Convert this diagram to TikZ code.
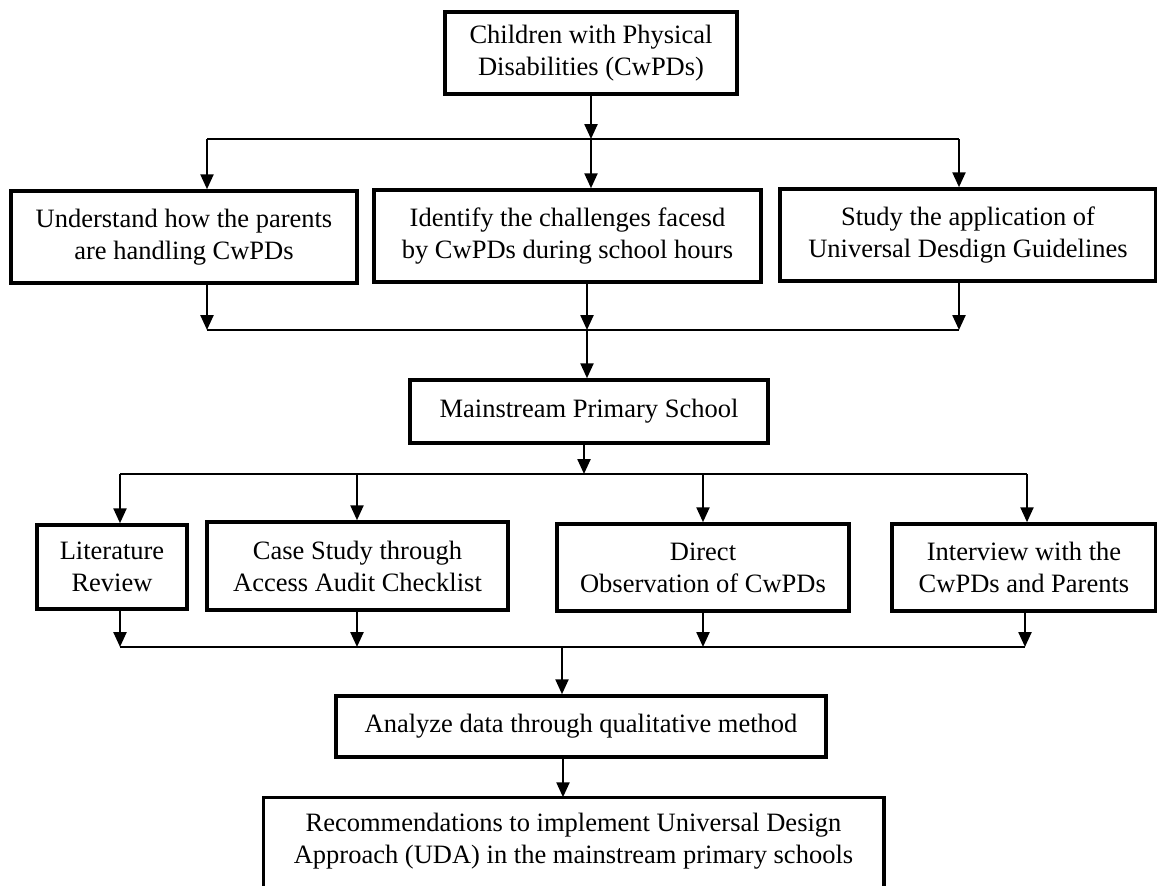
\documentclass[tikz,border=0pt]{standalone}
\usepackage{fontspec}
\setmainfont{Liberation Serif}
\usetikzlibrary{arrows.meta}
\begin{document}
\begin{tikzpicture}[x=1pt,y=-1pt,
  box/.style={draw, line width=3.5pt, align=center, inner sep=0pt,
    font=\fontsize{26.5}{32}\selectfont},
  arr/.style={line width=2.4pt, -{Triangle[length=15pt,width=13pt]}},
  bus/.style={line width=2.2pt}]
\clip (0,0) rectangle (1157,886);
\fill[white] (0,0) rectangle (1157,886);
% boxes
\node[box, minimum width=292pt, minimum height=82pt] (top) at (591,53) {Children with Physical\\Disabilities (CwPDs)};
\node[box, minimum width=346pt, minimum height=92pt] (L) at (184,237) {Understand how the parents\\are handling CwPDs};
\node[box, minimum width=387pt, minimum height=92pt] (M) at (567.5,236) {Identify the challenges facesd\\by CwPDs during school hours};
\node[box, minimum width=376pt, minimum height=92pt] (R) at (968,235) {Study the application of\\Universal Desdign Guidelines};
\node[box, minimum width=358pt, minimum height=63pt] (MS) at (589,411.5) {Mainstream Primary School};
\node[box, minimum width=150pt, minimum height=84pt] (lit) at (112,567) {Literature\\Review};
\node[box, minimum width=301pt, minimum height=88pt] (case) at (357.5,566) {Case Study through\\Access Audit Checklist};
\node[box, minimum width=292pt, minimum height=87pt] (obs) at (703,567.5) {Direct\\Observation of CwPDs};
\node[box, minimum width=264pt, minimum height=87pt] (int) at (1024,567.5) {Interview with the\\CwPDs and Parents};
\node[box, minimum width=490pt, minimum height=61pt] (ana) at (581,726.5) {Analyze data through qualitative method};
\node[box, draw=none, minimum width=617pt, minimum height=85pt] (rec) at (573.5,841.5) {Recommendations to implement Universal Design\\Approach (UDA) in the mainstream primary schools};
\draw[line width=3.5pt] ([yshift=-30pt]rec.south west) -- (rec.north west) -- (rec.north east) -- ([yshift=-30pt]rec.south east);
% bus 1
\coordinate (b1l) at (207,139);
\coordinate (b1m) at (591,139);
\coordinate (b1r) at (959,139);
\draw[bus] (b1l) -- (b1r);
\draw[arr] (top.south) -- (b1m);
\draw[arr] (b1l) -- (b1l |- L.north);
\draw[arr] (b1m) -- (b1m |- M.north);
\draw[arr] (b1r) -- (b1r |- R.north);
% bus 2
\coordinate (b2l) at (207,330);
\coordinate (b2m) at (587,330);
\coordinate (b2r) at (959,330);
\draw[bus] (b2l) -- (b2r);
\draw[arr] (L.south -| b2l) -- (b2l);
\draw[arr] (M.south -| b2m) -- (b2m);
\draw[arr] (R.south -| b2r) -- (b2r);
\draw[arr] (b2m) -- (b2m |- MS.north);
% bus 3
\coordinate (b3m) at (584,474);
\coordinate (b3a) at (120,474);
\coordinate (b3b) at (357,474);
\coordinate (b3c) at (703,474);
\coordinate (b3d) at (1027,474);
\draw[bus] (b3a) -- (b3d);
\draw[arr] (MS.south -| b3m) -- (b3m);
\draw[arr] (b3a) -- (b3a |- lit.north);
\draw[arr] (b3b) -- (b3b |- case.north);
\draw[arr] (b3c) -- (b3c |- obs.north);
\draw[arr] (b3d) -- (b3d |- int.north);
% bus 4
\coordinate (b4a) at (120,647);
\coordinate (b4b) at (357,647);
\coordinate (b4c) at (703,647);
\coordinate (b4d) at (1025,647);
\coordinate (b4m) at (562,647);
\draw[bus] (b4a) -- (b4d);
\draw[arr] (lit.south -| b4a) -- (b4a);
\draw[arr] (case.south -| b4b) -- (b4b);
\draw[arr] (obs.south -| b4c) -- (b4c);
\draw[arr] (int.south -| b4d) -- (b4d);
\draw[arr] (b4m) -- (b4m |- ana.north);
\coordinate (b5) at (563,757);
\draw[arr] (ana.south -| b5) -- (b5 |- rec.north);
\end{tikzpicture}
\end{document}
